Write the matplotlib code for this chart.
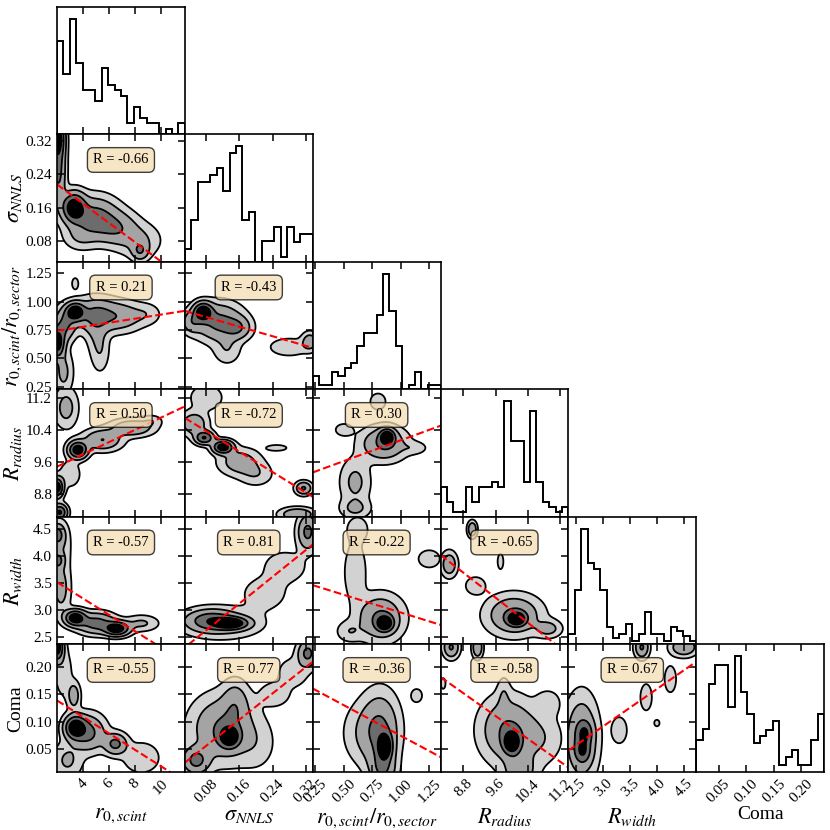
import numpy as np
import matplotlib
matplotlib.use('Agg')
import matplotlib.pyplot as plt

plt.rcParams['font.family'] = 'serif'
plt.rcParams['font.serif'] = ['Liberation Serif', 'DejaVu Serif']
plt.rcParams['mathtext.fontset'] = 'stix'
plt.rcParams['axes.linewidth'] = 1.2

# Variables shown on the corner plot
labels = [r'$r_{0,scint}$', r'$\sigma_{NNLS}$', r'$r_{0,scint}/r_{0,sector}$',
          r'$R_{radius}$', r'$R_{width}$', 'Coma']
limits = [(2.0, 11.85), (0.028, 0.337), (0.226, 1.35),
          (8.235, 11.4), (2.355, 4.73), (0.009, 0.241)]
ticks = [[4, 6, 8, 10], [0.08, 0.16, 0.24, 0.32], [0.25, 0.50, 0.75, 1.00, 1.25],
         [8.8, 9.6, 10.4, 11.2], [2.5, 3.0, 3.5, 4.0, 4.5], [0.05, 0.10, 0.15, 0.20]]
tick_fmt = ['{:.0f}', '{:.2f}', '{:.2f}', '{:.1f}', '{:.1f}', '{:.2f}']

# 1D histograms (20 bins each)
hist_r0 = [17, 11, 21, 13, 8, 8, 6, 12, 9, 8, 7, 2, 5, 3, 2, 2, 0, 1, 0, 2]
hist_sig = [1.8, 6, 11.4, 11.4, 12.4, 13.4, 10.2, 15.6, 16.6, 6, 7.1, 0, 3, 3, 5, 0.7, 5, 2.9, 4, 4]
hist_ratio = [3, 1, 1, 4, 3, 5, 6, 10, 13, 13, 17, 26.5, 18, 10, 0, 1, 4, 0, 1, 1]
hist_rrad = [6, 3, 1, 1, 6, 3, 6, 6, 7, 6, 23, 15, 15, 7, 21, 7, 3, 2, 1, 2]
hist_rwid = [3, 16, 34, 24, 22, 16, 5, 2, 3, 6, 1, 3, 9.5, 3, 3, 1, 5, 4, 2.5, 1]
hist_coma = [4.4, 6, 12.1, 14.8, 14.8, 9, 16, 11, 8, 4, 4.9, 5.8, 7, 0.9, 2, 3.1, 0.9, 0.9, 4.4, 8]
hists = [hist_r0, hist_sig, hist_ratio, hist_rrad, hist_rwid, hist_coma]

# Pearson R shown in each pair panel, keyed by (row, col)
r_values = {(1, 0): -0.66,
            (2, 0): 0.21, (2, 1): -0.43,
            (3, 0): 0.50, (3, 1): -0.72, (3, 2): 0.30,
            (4, 0): -0.57, (4, 1): 0.81, (4, 2): -0.22, (4, 3): -0.65,
            (5, 0): -0.55, (5, 1): 0.77, (5, 2): -0.36, (5, 3): -0.58, (5, 4): 0.67}

# Linear fits (slope, intercept), keyed by (row, col)
fits = {(1, 0): (-0.0233, 0.2626),
        (2, 0): (0.0179, 0.707), (2, 1): (-1.052, 0.948),
        (3, 0): (0.152, 9.18), (3, 1): (-6.33, 10.87), (3, 2): (1.032, 9.107),
        (4, 0): (-0.152, 3.82), (4, 1): (6.2, 2.127), (4, 2): (-0.658, 3.609), (4, 3): (-0.584, 8.832),
        (5, 0): (-0.01494, 0.169), (5, 1): (0.594, 0.0094), (5, 2): (-0.111, 0.186),
        (5, 3): (-0.052, 0.610), (5, 4): (0.068, -0.112)}

# 2D density peaks: (x, y, sx, sy, height)
blobs_sig_r0 = [(2.0, 0.33, 0.35, 0.03, 1.0), (2.1, 0.25, 0.35, 0.05, 0.5),
                (3.3, 0.16, 0.55, 0.022, 1.0), (4.9, 0.135, 1.1, 0.03, 0.55),
                (6.6, 0.11, 1.0, 0.025, 0.35), (8.3, 0.08, 1.0, 0.025, 0.2),
                (8.4, 0.055, 0.4, 0.014, 0.35), (3.8, 0.09, 0.8, 0.02, 0.15)]
blobs_ratio_r0 = [(3.4, 0.91, 0.45, 0.05, 1.0), (2.0, 0.64, 0.35, 0.08, 1.0),
                  (2.6, 0.80, 0.5, 0.09, 0.45), (5.0, 0.88, 1.0, 0.09, 0.5),
                  (7.0, 0.87, 1.0, 0.08, 0.3), (8.9, 0.89, 0.7, 0.06, 0.12),
                  (5.3, 0.57, 0.45, 0.12, 0.15), (5.0, 0.72, 0.5, 0.1, 0.12),
                  (2.5, 0.38, 0.45, 0.12, 0.22), (3.4, 1.16, 0.2, 0.04, 0.1)]
blobs_ratio_sig = [(0.072, 0.91, 0.014, 0.05, 1.0), (0.11, 0.82, 0.035, 0.1, 0.5),
                   (0.155, 0.77, 0.02, 0.06, 0.35), (0.13, 0.58, 0.02, 0.08, 0.15),
                   (0.045, 0.82, 0.015, 0.06, 0.3), (0.28, 0.6, 0.03, 0.05, 0.15),
                   (0.33, 0.65, 0.012, 0.05, 0.3)]
blobs_rrad_r0 = [(3.6, 9.9, 0.45, 0.13, 1.0), (5.5, 10.15, 0.9, 0.16, 0.42),
                 (7.8, 10.45, 1.0, 0.13, 0.38), (9.3, 10.62, 0.5, 0.09, 0.12),
                 (2.7, 10.95, 0.55, 0.3, 0.25), (3.0, 9.3, 0.5, 0.2, 0.15),
                 (2.0, 8.97, 0.3, 0.15, 1.0), (2.2, 8.35, 0.35, 0.12, 0.8)]
blobs_rrad_sig = [(0.12, 9.97, 0.015, 0.1, 1.0), (0.075, 10.2, 0.014, 0.1, 0.75),
                  (0.05, 10.55, 0.02, 0.18, 0.35), (0.08, 11.2, 0.025, 0.2, 0.15),
                  (0.16, 9.6, 0.03, 0.2, 0.3), (0.2, 9.3, 0.025, 0.18, 0.15),
                  (0.25, 9.95, 0.02, 0.06, 0.1), (0.315, 8.95, 0.012, 0.1, 0.45),
                  (0.3, 8.3, 0.025, 0.1, 0.4)]
blobs_rrad_ratio = [(0.88, 10.22, 0.04, 0.12, 1.0), (0.85, 10.05, 0.12, 0.25, 0.45),
                    (1.12, 9.95, 0.07, 0.1, 0.12), (0.6, 9.1, 0.08, 0.35, 0.22),
                    (0.6, 8.45, 0.08, 0.15, 0.2), (0.8, 11.1, 0.05, 0.15, 0.12),
                    (0.5, 10.4, 0.06, 0.12, 0.1)]
blobs_rwid_r0 = [(3.4, 2.85, 0.5, 0.09, 1.0), (6.6, 2.65, 0.6, 0.08, 1.0),
                 (5.0, 2.75, 0.9, 0.12, 0.55), (8.5, 2.75, 0.8, 0.09, 0.2),
                 (2.3, 3.4, 0.45, 0.3, 0.25), (2.0, 4.4, 0.35, 0.12, 0.5),
                 (2.0, 3.92, 0.3, 0.09, 0.5), (2.3, 4.2, 0.5, 0.3, 0.15)]
blobs_rwid_sig = [(0.14, 2.75, 0.025, 0.07, 1.0), (0.09, 2.8, 0.035, 0.12, 0.55),
                  (0.12, 2.75, 0.06, 0.18, 0.2), (0.22, 3.3, 0.035, 0.2, 0.12),
                  (0.27, 3.8, 0.035, 0.2, 0.12), (0.325, 4.45, 0.015, 0.2, 0.5)]
blobs_rwid_ratio = [(0.86, 2.75, 0.045, 0.09, 1.0), (0.82, 2.85, 0.12, 0.25, 0.45),
                    (0.6, 3.7, 0.06, 0.35, 0.16), (0.62, 4.5, 0.06, 0.15, 0.14),
                    (1.25, 3.95, 0.07, 0.12, 0.12), (0.55, 2.6, 0.07, 0.12, 0.15)]
blobs_rwid_rrad = [(10.12, 2.83, 0.14, 0.08, 1.0), (10.05, 2.9, 0.4, 0.22, 0.45),
                   (10.9, 2.65, 0.2, 0.1, 0.25), (8.45, 3.85, 0.12, 0.14, 0.35),
                   (9.1, 3.45, 0.18, 0.12, 0.12), (9.02, 4.5, 0.07, 0.09, 0.4),
                   (9.72, 3.9, 0.06, 0.12, 0.1)]
blobs_coma_r0 = [(3.4, 0.09, 0.5, 0.013, 1.0), (4.4, 0.08, 0.8, 0.02, 0.5),
                 (6.5, 0.06, 0.55, 0.012, 0.5), (8.5, 0.035, 0.9, 0.018, 0.15),
                 (3.3, 0.148, 0.3, 0.015, 0.3), (2.0, 0.236, 0.3, 0.015, 1.0),
                 (2.5, 0.19, 0.45, 0.03, 0.12), (2.8, 0.03, 0.7, 0.02, 0.2)]
blobs_coma_sig = [(0.136, 0.073, 0.015, 0.012, 1.0), (0.12, 0.088, 0.045, 0.035, 0.45),
                  (0.15, 0.135, 0.02, 0.025, 0.25), (0.055, 0.03, 0.02, 0.015, 0.5),
                  (0.2, 0.06, 0.03, 0.03, 0.1), (0.245, 0.15, 0.025, 0.015, 0.12),
                  (0.29, 0.19, 0.025, 0.018, 0.12), (0.325, 0.225, 0.015, 0.015, 0.5)]
blobs_coma_ratio = [(0.86, 0.055, 0.04, 0.015, 1.0), (0.82, 0.085, 0.1, 0.04, 0.45),
                    (0.68, 0.08, 0.12, 0.035, 0.15), (1.14, 0.148, 0.04, 0.01, 0.1),
                    (0.84, 0.015, 0.07, 0.02, 0.4)]
blobs_coma_rrad = [(10.0, 0.063, 0.13, 0.013, 1.0), (9.9, 0.085, 0.4, 0.035, 0.45),
                   (10.7, 0.07, 0.35, 0.03, 0.15), (9.8, 0.15, 0.1, 0.02, 0.12),
                   (10.9, 0.135, 0.2, 0.015, 0.12), (8.5, 0.236, 0.12, 0.012, 0.45),
                   (9.15, 0.236, 0.08, 0.012, 0.4), (10.2, 0.01, 0.25, 0.02, 0.3),
                   (8.3, 0.17, 0.06, 0.01, 0.08)]
blobs_coma_rwid = [(2.66, 0.08, 0.09, 0.013, 0.45), (2.62, 0.047, 0.09, 0.013, 0.45),
                   (2.6, 0.07, 0.18, 0.045, 0.45), (3.3, 0.085, 0.12, 0.02, 0.1),
                   (3.8, 0.145, 0.08, 0.018, 0.12), (4.25, 0.178, 0.08, 0.018, 0.12),
                   (4.0, 0.098, 0.05, 0.006, 0.08), (3.72, 0.236, 0.08, 0.012, 0.45),
                   (4.5, 0.236, 0.15, 0.01, 0.4)]

blobs = {(1, 0): blobs_sig_r0,
         (2, 0): blobs_ratio_r0, (2, 1): blobs_ratio_sig,
         (3, 0): blobs_rrad_r0, (3, 1): blobs_rrad_sig, (3, 2): blobs_rrad_ratio,
         (4, 0): blobs_rwid_r0, (4, 1): blobs_rwid_sig, (4, 2): blobs_rwid_ratio, (4, 3): blobs_rwid_rrad,
         (5, 0): blobs_coma_r0, (5, 1): blobs_coma_sig, (5, 2): blobs_coma_ratio,
         (5, 3): blobs_coma_rrad, (5, 4): blobs_coma_rwid}

levels = [0.05, 0.17, 0.42, 0.75, 100]
fill_colors = ['#d2d2d2', '#a4a4a4', '#6c6c6c', '#000000']

n = len(labels)
fig, axes = plt.subplots(n, n, figsize=(8.3, 8.3), dpi=100)
fig.subplots_adjust(left=0.0687, right=0.9928, bottom=0.0699, top=0.9916,
                    wspace=0, hspace=0)


def draw_density(ax, xlim, ylim, peaks):
    x = np.linspace(xlim[0], xlim[1], 200)
    y = np.linspace(ylim[0], ylim[1], 200)
    X, Y = np.meshgrid(x, y)
    Z = np.zeros_like(X)
    for px, py, sx, sy, h in peaks:
        Z += h * np.exp(-0.5 * ((X - px) / sx) ** 2 - 0.5 * ((Y - py) / sy) ** 2)
    ax.contourf(X, Y, Z, levels=levels, colors=fill_colors)
    ax.contour(X, Y, Z, levels=levels[:-1], colors='k', linewidths=1.3)


for i in range(n):
    for j in range(n):
        ax = axes[i, j]
        if j > i:
            ax.axis('off')
            continue
        ax.set_xlim(limits[j])
        ax.set_xticks(ticks[j])
        if i == j:
            counts = hists[i]
            edges = np.linspace(limits[i][0], limits[i][1], len(counts) + 1)
            ax.stairs(counts, edges, color='k', linewidth=1.4)
            ax.set_ylim(0, 1.1 * max(counts))
            ax.set_yticks([])
            ax.tick_params(direction='in', top=True, bottom=True, length=5, width=1.1)
        else:
            ax.set_ylim(limits[i])
            ax.set_yticks(ticks[i])
            draw_density(ax, limits[j], limits[i], blobs[(i, j)])
            m, b = fits[(i, j)]
            ax.axline((0, b), slope=m, color='red', linestyle='--', linewidth=1.5)
            ax.text(0.5, 0.8, 'R = {:.2f}'.format(r_values[(i, j)]), transform=ax.transAxes,
                    ha='center', va='center', fontsize=10.5,
                    bbox=dict(boxstyle='round,pad=0.4', facecolor='wheat', alpha=0.75))
            ax.tick_params(direction='in', top=True, right=True, length=5, width=1.1)
            if j == 0:
                ax.set_yticklabels([tick_fmt[i].format(t) for t in ticks[i]], fontsize=11)
                ax.set_ylabel(labels[i], fontsize=16 if i < 5 else 14, labelpad=1)
            else:
                ax.set_yticklabels([])
        if i == n - 1:
            ax.set_xticklabels([tick_fmt[j].format(t) for t in ticks[j]], fontsize=11, rotation=45)
            ax.set_xlabel(labels[j], fontsize=16 if j < 5 else 14, labelpad=1)
        else:
            ax.set_xticklabels([])

fig.align_ylabels(axes[1:, 0])
fig.align_xlabels(axes[-1, :])
plt.savefig('out.png', dpi=100)
